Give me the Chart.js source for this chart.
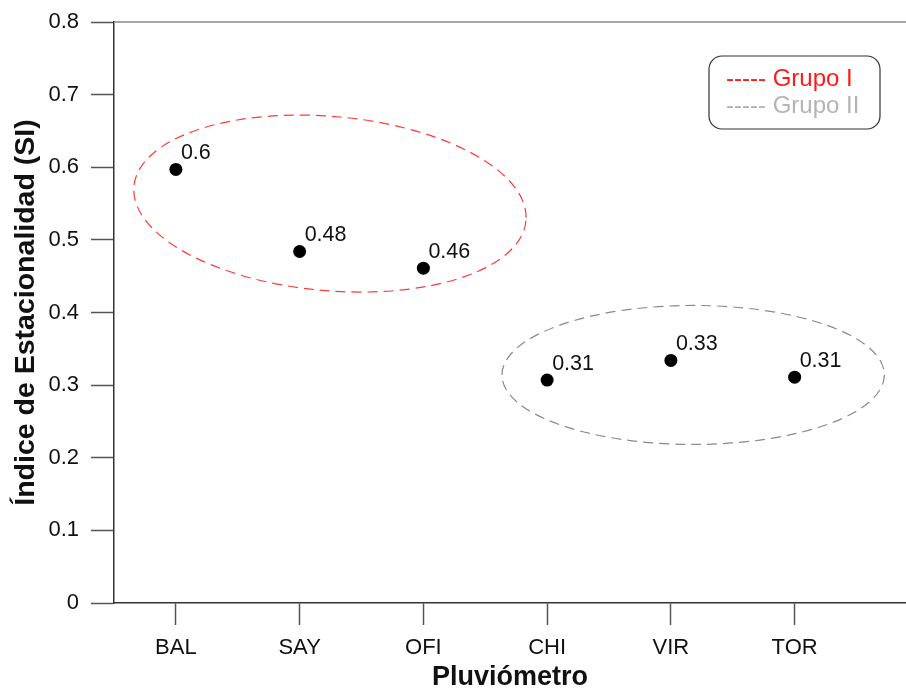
<!DOCTYPE html>
<html>
<head>
    <title>Índice de Estacionalidad</title>
    <script src="https://cdn.jsdelivr.net/npm/chart.js"></script>
    <style>
        body { margin: 0; background: #fff; }
        .wrap { width: 906px; height: 689px; position: relative; }
    </style>
</head>
<body>
<div class="wrap"><canvas id="siChart"></canvas></div>
<script>
    // Datos
    const estaciones = ['BAL', 'SAY', 'OFI', 'CHI', 'VIR', 'TOR'];
    const indiceSI = [0.597, 0.484, 0.461, 0.307, 0.334, 0.311];
    const yTicks = [0, 0.1, 0.2, 0.3, 0.4, 0.5, 0.6, 0.7, 0.8];

    // Grupos (elipses en unidades de datos)
    const grupos = ['Grupo I', 'Grupo II'];
    const grupoColor = ['#ff3b3b', '#8a8a8a'];
    const grupoTexto = ['#ff1a1a', '#b4b4b4'];
    const elipses = [
        { cx: 2.245, cy: 0.55, rx: 1.59, ry: 0.12, tilt: 5 },
        { cx: 5.18, cy: 0.314, rx: 1.545, ry: 0.0957, tilt: 0 }
    ];

    const FONT = "'Liberation Sans', Arial, sans-serif";

    const decoPlugin = {
        id: 'deco',
        afterDatasetsDraw(chart) {
            const { ctx, chartArea: a, scales: { x, y } } = chart;
            ctx.save();
            // linea superior
            ctx.strokeStyle = '#8a8a8a';
            ctx.lineWidth = 1.5;
            ctx.beginPath();
            ctx.moveTo(a.left, a.top);
            ctx.lineTo(a.right, a.top);
            ctx.stroke();

            // elipses de grupos
            elipses.forEach((e, i) => {
                const px = x.getPixelForValue(e.cx);
                const py = y.getPixelForValue(e.cy);
                const rx = x.getPixelForValue(e.cx + e.rx) - px;
                const ry = py - y.getPixelForValue(e.cy + e.ry);
                ctx.strokeStyle = grupoColor[i];
                ctx.lineWidth = 1.2;
                ctx.setLineDash([10, 6]);
                ctx.beginPath();
                ctx.ellipse(px, py, rx, ry, e.tilt * Math.PI / 180, 0, Math.PI * 2);
                ctx.stroke();
            });
            ctx.setLineDash([]);

            // etiquetas de valores
            ctx.fillStyle = '#111';
            ctx.font = '21.5px ' + FONT;
            ctx.textBaseline = 'alphabetic';
            ctx.textAlign = 'left';
            const meta = chart.getDatasetMeta(0);
            meta.data.forEach((pt, i) => {
                const txt = String(parseFloat(indiceSI[i].toFixed(2)));
                ctx.fillText(txt, pt.x + 5, pt.y - 10);
            });

            // leyenda
            const lx = a.right - 197, ly = a.top + 34, lw = 171, lh = 73;
            ctx.strokeStyle = '#333';
            ctx.lineWidth = 1.2;
            ctx.beginPath();
            ctx.roundRect(lx, ly, lw, lh, 13);
            ctx.stroke();
            ctx.font = '24px ' + FONT;
            grupos.forEach((g, i) => {
                ctx.fillStyle = grupoTexto[i];
                ctx.fillText('----- ' + g, lx + 17, ly + 30 + i * 27);
            });
            ctx.restore();
        }
    };

    new Chart(document.getElementById('siChart'), {
        type: 'scatter',
        data: {
            datasets: [{
                label: 'SI',
                data: indiceSI.map((v, i) => ({ x: i + 1, y: v })),
                backgroundColor: '#000',
                borderWidth: 0,
                pointRadius: 6.5
            }]
        },
        options: {
            responsive: true,
            maintainAspectRatio: false,
            animation: false,
            layout: { autoPadding: false, padding: { top: 22, right: 0, left: 0, bottom: 0 } },
            plugins: {
                legend: { display: false },
                tooltip: { enabled: false }
            },
            scales: {
                x: {
                    type: 'linear',
                    min: 0.5,
                    max: 6.9,
                    afterBuildTicks: s => { s.ticks = estaciones.map((c, i) => ({ value: i + 1 })); },
                    afterFit: s => { s.height = 86; s.paddingLeft = 0; s.paddingRight = 0; },
                    ticks: {
                        callback: v => estaciones[v - 1],
                        color: '#111',
                        font: { family: FONT, size: 22 },
                        padding: 10,
                        maxRotation: 0
                    },
                    grid: { drawOnChartArea: false, tickLength: 22, color: '#555', tickWidth: 1.5 },
                    border: { color: '#333', width: 1.5 },
                    title: {
                        display: true,
                        text: 'Pluviómetro',
                        color: '#111',
                        font: { family: FONT, size: 27, weight: 'bold', lineHeight: 1 },
                        padding: { top: 0, bottom: -2 }
                    }
                },
                y: {
                    min: 0,
                    max: 0.8,
                    afterBuildTicks: s => { s.ticks = yTicks.map(v => ({ value: v })); },
                    afterFit: s => { s.width = 114; s.paddingTop = 0; },
                    ticks: {
                        callback: v => v === 0 ? '0' : v.toFixed(1),
                        color: '#111',
                        font: { family: FONT, size: 22 },
                        padding: 12
                    },
                    grid: { drawOnChartArea: false, tickLength: 23, color: '#555', tickWidth: 1.5 },
                    border: { color: '#333', width: 1.5 },
                    title: {
                        display: true,
                        text: 'Índice de Estacionalidad (SI)',
                        color: '#111',
                        font: { family: FONT, size: 28.5, weight: 'bold', lineHeight: 1 },
                        padding: { top: 11.5, bottom: 0 }
                    }
                }
            }
        },
        plugins: [decoPlugin]
    });
</script>
</body>
</html>
